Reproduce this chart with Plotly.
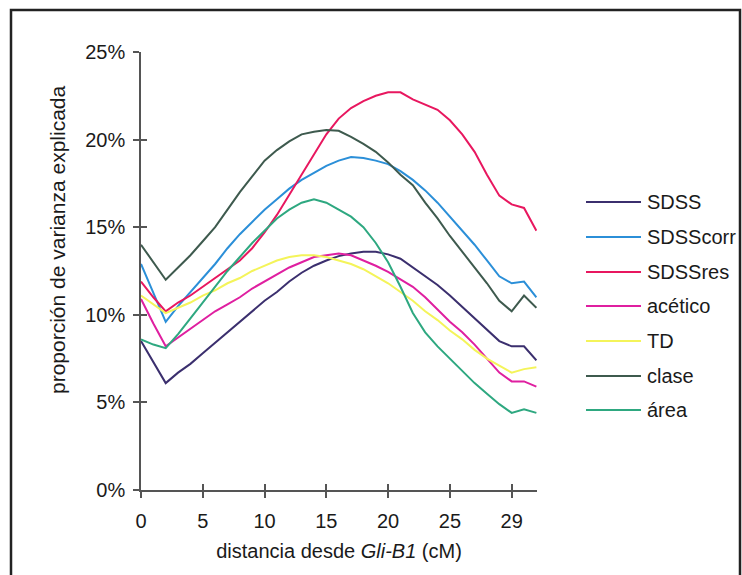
import plotly.graph_objects as go

# Marker positions along the chromosome (category index) and axis labels
posiciones = [0, 1, 2, 3, 4, 5, 6, 7, 8, 9, 10, 11, 12, 13, 14, 15, 16,
              17, 18, 19, 20, 21, 22, 23, 24, 25, 26, 27, 28, 29, 30, 31, 32]
tick_pos = [0, 5, 10, 15, 20, 25, 30]
tick_txt = ["0", "5", "10", "15", "20", "25", "29"]
y_ticks = [0, 5, 10, 15, 20, 25]
y_tick_txt = ["0%", "5%", "10%", "15%", "20%", "25%"]

# Proportion of explained variance (%) for each trait
sdss = [8.5, 7.3, 6.1, 6.7, 7.2, 7.8, 8.4, 9.0, 9.6, 10.2, 10.8, 11.3, 11.9,
        12.4, 12.8, 13.1, 13.35, 13.5, 13.6, 13.6, 13.45, 13.2, 12.7, 12.2,
        11.7, 11.1, 10.45, 9.8, 9.1, 8.5, 8.2, 8.2, 7.4]
sdss_corr = [12.9, 11.2, 9.6, 10.5, 11.3, 12.1, 12.9, 13.8, 14.6, 15.3, 16.0,
             16.6, 17.2, 17.7, 18.1, 18.5, 18.8, 19.0, 18.95, 18.8, 18.6, 18.2,
             17.7, 17.1, 16.4, 15.6, 14.8, 14.0, 13.1, 12.2, 11.8, 11.9, 11.0]
sdss_res = [11.9, 11.0, 10.2, 10.7, 11.1, 11.6, 12.1, 12.6, 13.1, 13.8, 14.7,
            15.7, 16.85, 18.0, 19.2, 20.3, 21.2, 21.8, 22.2, 22.5, 22.7, 22.7,
            22.3, 22.0, 21.7, 21.1, 20.3, 19.3, 18.0, 16.8, 16.3, 16.1, 14.8]
acetico = [10.9, 9.5, 8.2, 8.7, 9.2, 9.7, 10.2, 10.6, 11.0, 11.5, 11.9, 12.3,
           12.7, 13.0, 13.3, 13.4, 13.5, 13.4, 13.1, 12.8, 12.45, 12.0, 11.6,
           11.0, 10.3, 9.6, 9.0, 8.3, 7.5, 6.7, 6.2, 6.2, 5.9]
td = [11.1, 10.6, 10.1, 10.4, 10.7, 11.1, 11.4, 11.8, 12.1, 12.5, 12.8, 13.1,
      13.3, 13.4, 13.4, 13.3, 13.1, 12.9, 12.6, 12.2, 11.8, 11.3, 10.8, 10.2,
      9.7, 9.1, 8.6, 8.0, 7.5, 7.1, 6.7, 6.9, 7.0]
clase = [14.0, 13.0, 12.0, 12.7, 13.4, 14.2, 15.0, 16.0, 17.0, 17.9, 18.8,
         19.4, 19.9, 20.3, 20.45, 20.55, 20.5, 20.15, 19.75, 19.3, 18.7, 18.0,
         17.4, 16.4, 15.5, 14.5, 13.6, 12.7, 11.8, 10.8, 10.2, 11.1, 10.4]
area = [8.6, 8.3, 8.1, 8.9, 9.8, 10.7, 11.6, 12.5, 13.3, 14.1, 14.8, 15.5,
        16.0, 16.4, 16.6, 16.4, 16.0, 15.6, 15.0, 14.1, 13.0, 11.6, 10.1, 9.0,
        8.2, 7.5, 6.8, 6.1, 5.5, 4.9, 4.4, 4.6, 4.4]

nombres = ["SDSS", "SDSScorr", "SDSSres", "acético", "TD", "clase", "área"]
series = [sdss, sdss_corr, sdss_res, acetico, td, clase, area]
colores = ["#3b2f6e", "#2b8fd8", "#e8175f", "#df1fa0", "#f4f45a",
           "#3e5a4e", "#2ea880"]

FONT = "Arial, Liberation Sans, sans-serif"
W, H = 742, 575
L, R, T, B = 141, 205, 52, 85
PW, PH = W - L - R, H - T - B


def px_x(x):
    return (x - L) / PW


def px_y(y):
    return (H - B - y) / PH


fig = go.Figure()

# the last series goes on the overlay axes (same ranges) so that those axes
# are drawn and supply the inner half of each crossing tick
for i, (nombre, vals, col) in enumerate(zip(nombres, series, colores)):
    last = i == len(nombres) - 1
    fig.add_trace(go.Scatter(x=posiciones, y=vals, mode="lines", name=nombre,
                             line=dict(color=col, width=2),
                             xaxis="x2" if last else "x",
                             yaxis="y2" if last else "y",
                             showlegend=False))

axis_common = dict(showgrid=False, zeroline=False, showline=True,
                   linecolor="#555555", linewidth=1.5, tickcolor="#555555",
                   tickwidth=1.5, ticklen=6)

fig.update_layout(
    width=W, height=H,
    margin=dict(l=L, r=R, t=T, b=B),
    paper_bgcolor="white", plot_bgcolor="white",
    font=dict(family=FONT, size=20, color="#1a1a1a"),
    xaxis=dict(range=[0, 32.05], tickvals=tick_pos, ticktext=tick_txt,
               ticks="outside", ticklabelstandoff=6,
               title=dict(text="distancia desde <i>Gli-B1</i> (cM)",
                          standoff=13, font=dict(size=20)),
               **axis_common),
    yaxis=dict(range=[0, 25], tickvals=y_ticks, ticktext=y_tick_txt,
               ticks="outside", ticklabelstandoff=4,
               **axis_common),
    xaxis2=dict(overlaying="x", anchor="y2", range=[0, 32.05],
                tickvals=tick_pos, ticks="inside", showticklabels=False,
                **axis_common),
    yaxis2=dict(overlaying="y", anchor="x2", range=[0, 25],
                tickvals=y_ticks, ticks="inside", showticklabels=False,
                **axis_common),
)

# legend drawn as line samples with labels
leg_y = [202, 237, 272, 306, 341, 376, 410]
shapes = []
annotations = []
for nombre, col, yy in zip(nombres, colores, leg_y):
    shapes.append(dict(type="line", xref="paper", yref="paper",
                       x0=px_x(586), x1=px_x(641), y0=px_y(yy), y1=px_y(yy),
                       line=dict(color=col, width=2)))
    annotations.append(dict(xref="paper", yref="paper", x=px_x(645),
                            y=px_y(yy), text=nombre, showarrow=False,
                            xanchor="left", yanchor="middle",
                            font=dict(size=20, family=FONT, color="#1a1a1a")))

# y-axis title
annotations.append(dict(xref="paper", yref="paper", x=px_x(57), y=px_y(240),
                        text="proporción de varianza explicada",
                        textangle=-90, showarrow=False,
                        xanchor="center", yanchor="middle",
                        font=dict(size=21, family=FONT, color="#1a1a1a")))

# outer frame
shapes.append(dict(type="rect", xref="paper", yref="paper",
                   x0=px_x(11), x1=px_x(740), y0=px_y(600), y1=px_y(10),
                   line=dict(color="#222222", width=2.5)))

fig.update_layout(shapes=shapes, annotations=annotations)

fig.write_html("out.html")
